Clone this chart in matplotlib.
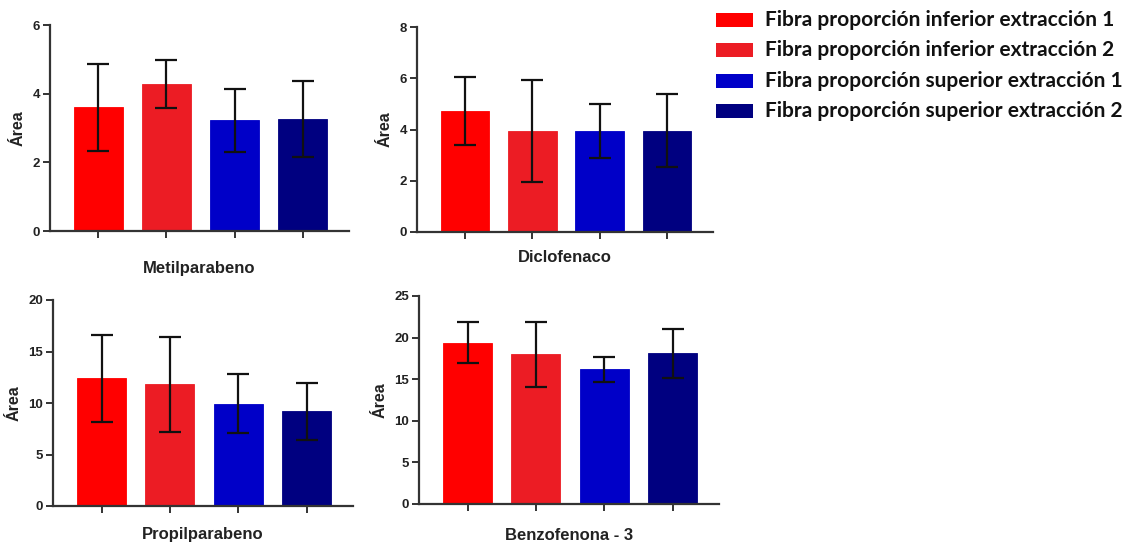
import matplotlib
matplotlib.use("Agg")
import matplotlib.pyplot as plt
from matplotlib.patches import Rectangle
from matplotlib.font_manager import FontProperties

# Series names and colours
series = [
    "Fibra proporción inferior extracción 1",
    "Fibra proporción inferior extracción 2",
    "Fibra proporción superior extracción 1",
    "Fibra proporción superior extracción 2",
]
colors = ["#FF0000", "#EC1C24", "#0000C8", "#000080"]

# Compounds (one panel each)
compounds = ["Metilparabeno", "Diclofenaco", "Propilparabeno", "Benzofenona - 3"]

# Mean area and error per series for each compound
metilparabeno_mean = [3.60, 4.27, 3.22, 3.26]
metilparabeno_err = [1.26, 0.70, 0.93, 1.10]
diclofenaco_mean = [4.72, 3.95, 3.95, 3.95]
diclofenaco_err = [1.32, 1.98, 1.05, 1.43]
propilparabeno_mean = [12.4, 11.8, 9.95, 9.2]
propilparabeno_err = [4.25, 4.6, 2.9, 2.75]
benzofenona_mean = [19.4, 18.0, 16.2, 18.1]
benzofenona_err = [2.45, 3.9, 1.5, 2.95]

means = [metilparabeno_mean, diclofenaco_mean, propilparabeno_mean, benzofenona_mean]
errs = [metilparabeno_err, diclofenaco_err, propilparabeno_err, benzofenona_err]
ymax = [6, 8, 20, 25]
ystep = [2, 2, 5, 5]

W, H = 1142, 545
fig = plt.figure(figsize=(W / 100, H / 100), dpi=100)

# Axes boxes in pixels: left, top, right, bottom
boxes = [
    (50, 25, 349, 231),
    (417, 27, 713, 232),
    (53, 300, 353, 506),
    (419, 296, 719, 504),
]
# Vertical centre (pixels from top) of each compound name
name_y = [268, 258, 534, 535]

tick_fp = FontProperties(family="Liberation Sans", weight="bold", size=9.5)
axis_color = "#333333"
text_color = "#222222"

for i, (l, t, r, b) in enumerate(boxes):
    ax = fig.add_axes([l / W, 1 - b / H, (r - l) / W, (b - t) / H])
    x = range(4)
    ax.bar(x, means[i], width=0.72, color=colors, edgecolor=colors,
           linewidth=0.6, zorder=2)
    ax.errorbar(x, means[i], yerr=errs[i], fmt="none", ecolor="#111111",
                elinewidth=1.6, capsize=8, capthick=1.6, zorder=3)
    ax.set_xlim(-0.71, 3.68)
    ax.set_ylim(0, ymax[i])
    ax.set_yticks(range(0, ymax[i] + 1, ystep[i]))
    ax.set_xticks(list(x))
    ax.set_xticklabels([])
    for sp in ("top", "right"):
        ax.spines[sp].set_visible(False)
    for sp in ("left", "bottom"):
        ax.spines[sp].set_linewidth(1.6)
        ax.spines[sp].set_color(axis_color)
    ax.tick_params(axis="both", direction="out", length=5, width=1.4,
                   color=axis_color, pad=2)
    for lab in ax.get_yticklabels():
        lab.set_fontproperties(tick_fp)
        lab.set_color(text_color)
    ax.set_ylabel("Área", family="Liberation Sans", weight="bold",
                  size=11.5, color=text_color, labelpad=5)
    fig.text((l + r) / 2 / W, 1 - name_y[i] / H, compounds[i],
             family="Liberation Sans", weight="bold", size=12,
             color=text_color, ha="center", va="center")

# Legend drawn at the upper right of the figure
rows_y = [20, 50, 81, 111]
for name, c, yc in zip(series, colors, rows_y):
    fig.patches.append(Rectangle((716 / W, 1 - (yc + 7) / H), 37 / W, 14 / H,
                                 transform=fig.transFigure, facecolor=c,
                                 edgecolor="none"))
    fig.text(765 / W, 1 - yc / H, name, family="Lato", weight="bold",
             size=15, color="#111111", va="center", ha="left")

fig.savefig("out.png", dpi=100, facecolor="white")
